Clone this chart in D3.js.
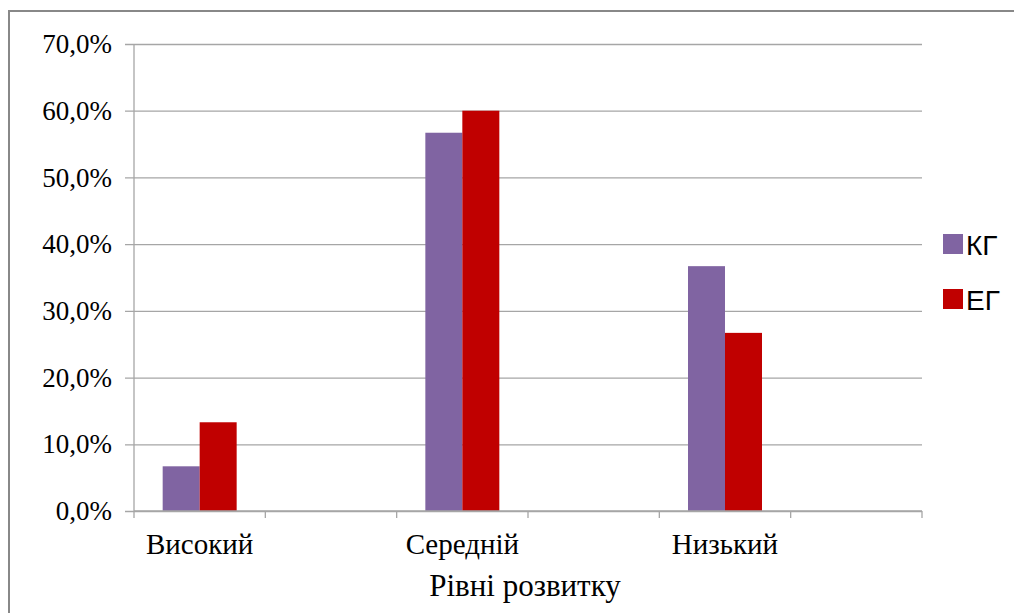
<!DOCTYPE html>
<html>
  <head>
    <meta charset="utf-8">
    <script src="https://d3js.org/d3.v7.min.js"></script>
    <style>
      body { margin: 0; background: #fff; }
      .tick text { font-family: "Liberation Serif", serif; fill: #000; }
    </style>
  </head>
  <body>
    <svg width="1014" height="613"></svg>
    <script>
      // chart data
      const categories = ['Високий', '', 'Середній', '', 'Низький', ''];
      const series = ['КГ', 'ЕГ'];
      const kgValues = [6.7, null, 56.7, null, 36.7, null];
      const egValues = [13.3, null, 60.0, null, 26.7, null];
      const yTicks = [0, 10, 20, 30, 40, 50, 60, 70];
      const colors = ['#8064A2', '#C00000'];

      const svg = d3.select('svg');
      const margin = { left: 134, top: 44, right: 92, bottom: 102 };
      const innerWidth = 1014 - margin.left - margin.right;
      const innerHeight = 613 - margin.top - margin.bottom;

      // outer frame
      svg.append('rect')
        .attr('x', 9).attr('y', 11)
        .attr('width', 1030).attr('height', 640)
        .attr('fill', 'none')
        .attr('stroke', '#888')
        .attr('stroke-width', 2);

      const g = svg.append('g')
        .attr('transform', `translate(${margin.left},${margin.top})`);

      const x = d3.scaleBand()
        .domain(d3.range(categories.length))
        .range([0, innerWidth]);
      const x1 = d3.scaleBand()
        .domain(series)
        .range([0, x.bandwidth()])
        .paddingOuter(0.775);
      const y = d3.scaleLinear()
        .domain([0, 70])
        .range([innerHeight, 0]);

      // horizontal gridlines + y labels
      const yAxis = d3.axisLeft(y)
        .tickValues(yTicks)
        .tickSize(9)
        .tickPadding(13)
        .tickFormat(d => d.toFixed(1).replace('.', ',') + '%');
      g.append('g')
        .call(yAxis)
        .call(a => a.select('.domain').remove())
        .call(a => a.selectAll('.tick line')
          .attr('x1', -9).attr('x2', innerWidth)
          .attr('stroke', '#a6a6a6').attr('stroke-width', 1.3))
        .call(a => a.selectAll('.tick text')
          .attr('x', -22)
          .style('font-size', '27px'));

      // vertical axis line
      g.append('line')
        .attr('x1', 0).attr('x2', 0)
        .attr('y1', 0).attr('y2', innerHeight)
        .attr('stroke', '#a6a6a6').attr('stroke-width', 1.3);

      // bars
      const rows = categories.map((c, i) => ({ i, vals: [kgValues[i], egValues[i]] }));
      g.selectAll('.cat').data(rows)
        .enter().append('g')
          .attr('transform', d => `translate(${x(d.i)},0)`)
        .selectAll('rect')
        .data(d => d.vals.map((v, k) => ({ s: series[k], v, k })).filter(e => e.v != null))
        .enter().append('rect')
          .attr('x', e => x1(e.s))
          .attr('width', x1.bandwidth())
          .attr('y', e => y(e.v))
          .attr('height', e => innerHeight - y(e.v))
          .attr('fill', e => colors[e.k]);

      // x axis: baseline and tick marks at band edges
      const xAxisG = g.append('g').attr('transform', `translate(0,${innerHeight})`);
      xAxisG.append('line')
        .attr('x1', 0).attr('x2', innerWidth)
        .attr('stroke', '#a6a6a6').attr('stroke-width', 1.3);
      const edges = d3.range(categories.length + 1).map(i => i * x.step());
      xAxisG.selectAll('.edge').data(edges)
        .enter().append('line')
          .attr('x1', d => d).attr('x2', d => d)
          .attr('y1', 0).attr('y2', 7)
          .attr('stroke', '#a6a6a6').attr('stroke-width', 1.3);

      const xAxis = d3.axisBottom(x)
        .tickSize(0)
        .tickPadding(22)
        .tickFormat(i => categories[i]);
      xAxisG.append('g')
        .call(xAxis)
        .call(a => a.select('.domain').remove())
        .call(a => a.selectAll('.tick text').style('font-size', '29px'));

      // axis title
      g.append('text')
        .attr('x', innerWidth / 2 - 3)
        .attr('y', innerHeight + 85)
        .attr('text-anchor', 'middle')
        .style('font-family', '"Liberation Serif", serif')
        .style('font-size', '31px')
        .text('Рівні розвитку');

      // legend
      const legend = svg.append('g').attr('transform', 'translate(943,234)');
      series.forEach((s, k) => {
        const row = legend.append('g').attr('transform', `translate(0,${k * 55})`);
        row.append('rect')
          .attr('width', 20).attr('height', 20)
          .attr('fill', colors[k]);
        row.append('text')
          .attr('x', 23).attr('y', 21)
          .style('font-family', '"Liberation Sans", sans-serif')
          .style('font-size', '28px')
          .text(s);
      });
    </script>
  </body>
</html>
